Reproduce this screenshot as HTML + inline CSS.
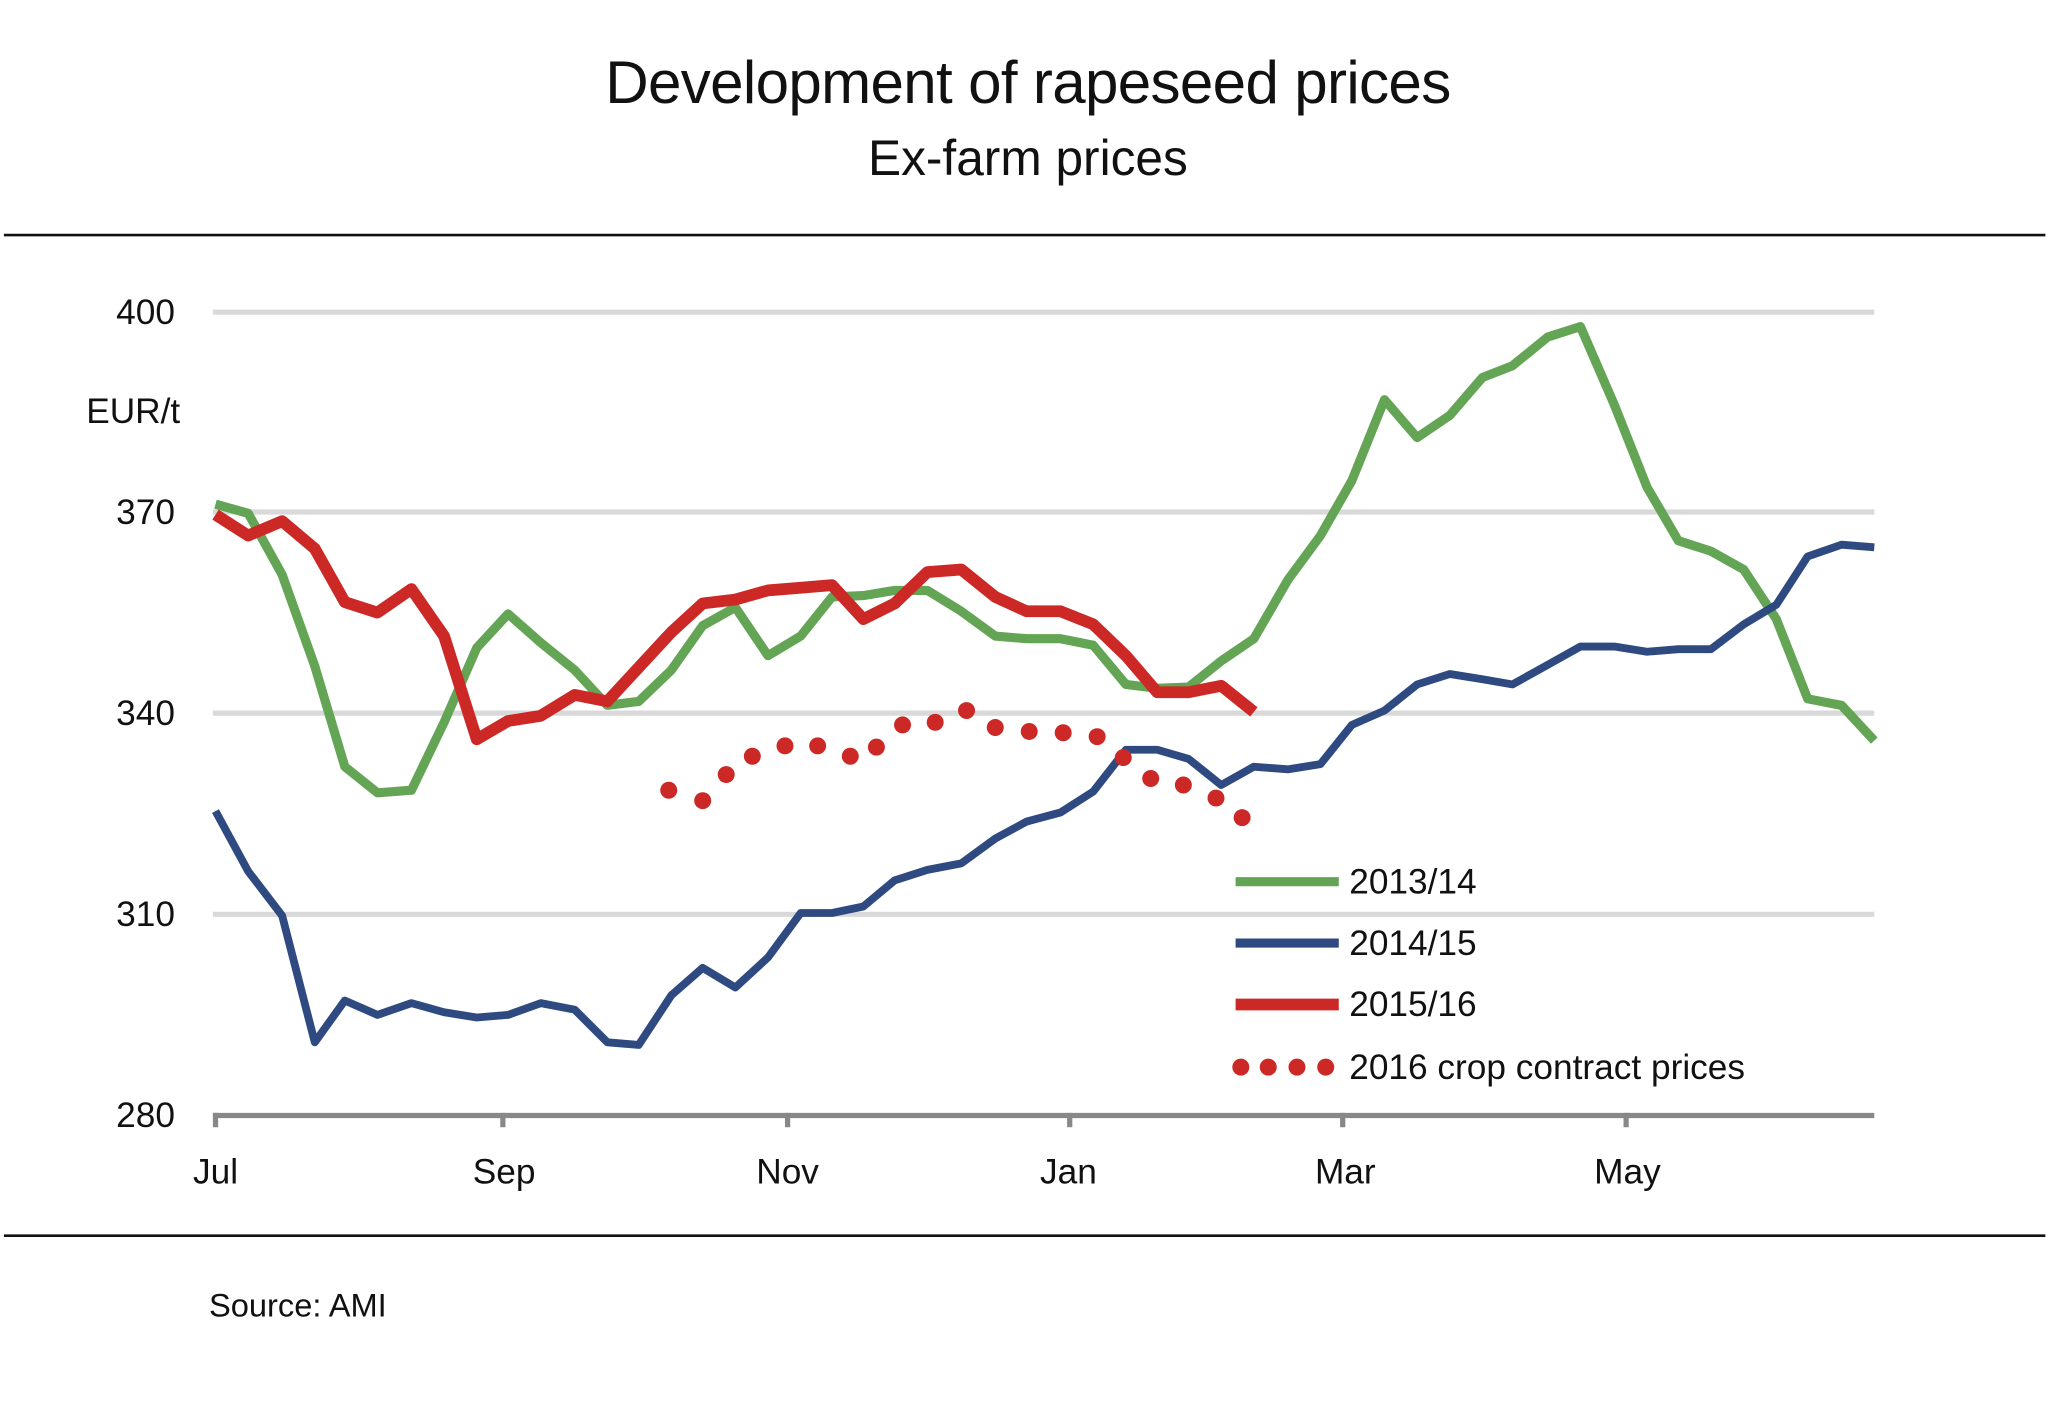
<!DOCTYPE html>
<html><head><meta charset="utf-8"><style>
html,body{margin:0;padding:0;background:#fff;}
svg{display:block;}
text{font-family:"Liberation Sans","DejaVu Sans",sans-serif;fill:#111;}
</style></head><body>
<svg width="2048" height="1401" viewBox="0 0 1568 1072.6" preserveAspectRatio="none" xmlns="http://www.w3.org/2000/svg">
<text x="787" y="79" font-size="46" text-anchor="middle" letter-spacing="-0.5">Development of rapeseed prices</text>
<text x="787" y="134" font-size="38" text-anchor="middle" fill="#222">Ex-farm prices</text>
<line x1="3" y1="180" x2="1566" y2="180" stroke="#111" stroke-width="2"/>
<line x1="3" y1="946" x2="1566" y2="946" stroke="#111" stroke-width="2"/>
<g stroke="#d9d9d9" stroke-width="4">
<line x1="163" y1="239" x2="1435" y2="239"/>
<line x1="163" y1="392" x2="1435" y2="392"/>
<line x1="163" y1="546" x2="1435" y2="546"/>
<line x1="163" y1="700" x2="1435" y2="700"/>
</g>
<g stroke="#888" stroke-width="4">
<line x1="163" y1="854" x2="1435" y2="854"/>
<line x1="165" y1="852" x2="165" y2="863"/>
<line x1="385" y1="852" x2="385" y2="863"/>
<line x1="603" y1="852" x2="603" y2="863"/>
<line x1="819" y1="852" x2="819" y2="863"/>
<line x1="1028" y1="852" x2="1028" y2="863"/>
<line x1="1245" y1="852" x2="1245" y2="863"/>
</g>
<g font-size="27" text-anchor="end">
<text x="134" y="248">400</text>
<text x="134" y="401">370</text>
<text x="134" y="555">340</text>
<text x="134" y="709">310</text>
<text x="134" y="863">280</text>
</g>
<text x="66" y="324" font-size="27">EUR/t</text>
<g font-size="27" text-anchor="middle">
<text x="165" y="906">Jul</text>
<text x="386" y="906">Sep</text>
<text x="603" y="906">Nov</text>
<text x="818" y="906">Jan</text>
<text x="1030" y="906">Mar</text>
<text x="1246" y="906">May</text>
</g>
<text x="160" y="1008" font-size="25">Source: AMI</text>
<g fill="none" stroke-linejoin="round">
<polyline stroke="#63a554" stroke-width="7" points="165,386 190,393 216,440 241,510 264,587 289,607 315,605 340,553 365,496 389,470 414,492 440,513 465,540 489,537 514,513 538,479 563,465 588,502 613,487 637,457 661,456 685,452 710,452 736,468 762,487 786,489 812,489 837,494 862,524 886,527 910,526 935,506 960,489 986,444 1011,410 1035,368 1060,306 1085,335 1110,318 1135,289 1158,280 1185,258 1210,250 1236,310 1261,373 1285,414 1310,422 1335,436 1360,474 1384,535 1410,540 1435,567"/>
<polyline stroke="#2e4a80" stroke-width="6" points="165,621 190,667 216,701 241,798 264,766 289,777 315,768 340,775 365,779 389,777 414,768 440,773 465,798 489,800 514,762 538,741 563,756 588,733 613,699 637,699 661,694 685,674 710,666 736,661 762,642 786,629 812,622 837,606 862,574 886,574 910,581 935,601 960,587 986,589 1011,585 1035,555 1060,544 1085,524 1110,516 1135,520 1158,524 1185,509 1210,495 1236,495 1261,499 1285,497 1310,497 1335,478 1360,463 1384,426 1410,417 1435,419"/>
<polyline stroke="#cc2826" stroke-width="9" points="165,394 190,410 216,399 241,420 264,461 289,469 315,451 340,487 365,566 389,552 414,548 440,532 465,537 489,511 514,484 538,462 563,459 588,452 613,450 637,448 661,474 685,462 710,438 736,436 762,457 786,468 812,468 837,478 862,502 886,530 910,530 935,525 960,545"/>
</g>
<g fill="#cc2826">
<circle cx="512" cy="605" r="6.5"/><circle cx="538" cy="613" r="6.5"/><circle cx="556" cy="593" r="6.5"/><circle cx="576" cy="579" r="6.5"/><circle cx="601" cy="571" r="6.5"/><circle cx="626" cy="571" r="6.5"/><circle cx="651" cy="579" r="6.5"/><circle cx="671" cy="572" r="6.5"/><circle cx="691" cy="555" r="6.5"/><circle cx="716" cy="553" r="6.5"/><circle cx="740" cy="544" r="6.5"/><circle cx="762" cy="557" r="6.5"/><circle cx="788" cy="560" r="6.5"/><circle cx="814" cy="561" r="6.5"/><circle cx="840" cy="564" r="6.5"/><circle cx="860" cy="580" r="6.5"/><circle cx="881" cy="596" r="6.5"/><circle cx="906" cy="601" r="6.5"/><circle cx="931" cy="611" r="6.5"/><circle cx="951" cy="626" r="6.5"/>
<circle cx="950" cy="817" r="6.5"/><circle cx="971" cy="817" r="6.5"/><circle cx="993" cy="817" r="6.5"/><circle cx="1015" cy="817" r="6.5"/>
</g>
<line x1="946" y1="675" x2="1025" y2="675" stroke="#63a554" stroke-width="7"/>
<line x1="946" y1="722" x2="1025" y2="722" stroke="#2e4a80" stroke-width="7"/>
<line x1="946" y1="769" x2="1025" y2="769" stroke="#cc2826" stroke-width="9"/>
<g font-size="27">
<text x="1033" y="684">2013/14</text>
<text x="1033" y="731">2014/15</text>
<text x="1033" y="778">2015/16</text>
<text x="1033" y="826">2016 crop contract prices</text>
</g>
</svg>
</body></html>
